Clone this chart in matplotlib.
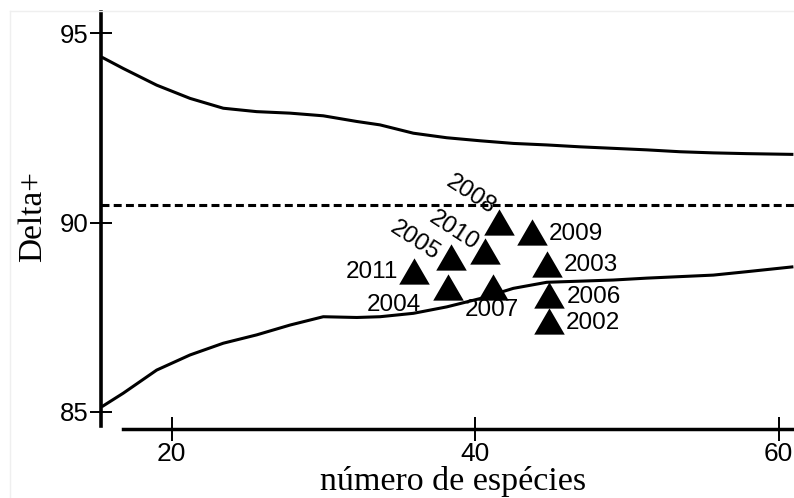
"""
Funnel plot of average taxonomic distinctness (Delta+) against number of species,
with the yearly samples placed inside the 95% probability funnel.
"""
import matplotlib
matplotlib.use("Agg")
import matplotlib.pyplot as plt
from matplotlib.lines import Line2D

# ── data ─────────────────────────────────────────────────────────────────────
n_species = [15.39, 16.81, 19.01, 21.21, 23.40, 25.60, 27.80, 29.99, 32.20, 33.73,
             35.93, 38.13, 40.33, 42.52, 44.72, 46.92, 49.11, 51.31, 53.51, 55.70,
             57.90, 60.98]
upper_limit = [94.37, 94.07, 93.63, 93.28, 93.02, 92.93, 92.89, 92.82, 92.67, 92.58,
               92.36, 92.24, 92.16, 92.09, 92.05, 92.00, 91.96, 91.92, 91.87, 91.84,
               91.82, 91.80]
lower_limit = [85.13, 85.49, 86.10, 86.50, 86.81, 87.03, 87.29, 87.51, 87.49, 87.51,
               87.60, 87.77, 87.99, 88.26, 88.42, 88.45, 88.48, 88.53, 88.57, 88.61,
               88.70, 88.83]
expected_delta = 90.46

years = ["2002", "2003", "2004", "2005", "2006", "2007", "2008", "2009", "2010", "2011"]
year_species = [44.85, 44.74, 38.19, 38.43, 44.85, 41.20, 41.56, 43.76, 40.68, 36.00]
year_delta = [87.40, 88.91, 88.30, 89.10, 88.08, 88.30, 90.02, 89.76, 89.25, 88.71]

x_ticks = [20, 40, 60]
y_ticks = [85, 90, 95]

# label placement per year: (dx, dy) in points, ha, rotation
LABEL_POS = {
    "2002": ((12.2, -1.5), "left", 0),
    "2003": ((11.7, -1.0), "left", 0),
    "2004": ((-38.7, -13.2), "center", 0),
    "2005": ((-26.1, 11.5), "center", -33),
    "2006": ((13.0, -1.3), "left", 0),
    "2007": ((-1.2, -16.9), "center", 0),
    "2008": ((-20.3, 19.2), "center", -33),
    "2009": ((11.6, -1.5), "left", 0),
    "2010": ((-23.0, 14.4), "center", -33),
    "2011": ((-11.5, -0.4), "right", 0),
}

SANS = "Liberation Sans"
SERIF = "Liberation Serif"
W, H = 794, 498

# ── figure ───────────────────────────────────────────────────────────────────
fig = plt.figure(figsize=(W / 100, H / 100), dpi=100)
fig.patch.set_facecolor("white")

# axes box in pixel terms: left 101, right 794, top 11.7, bottom 429.3
ax = fig.add_axes([101 / W, (H - 429.3) / H, (W - 101) / W, (429.3 - 11.7) / H])
ax.set_xlim(15.34, 61.02)
ax.set_ylim(84.535, 95.571)

for side in ("top", "right"):
    ax.spines[side].set_visible(False)
ax.spines["left"].set_linewidth(2.6)
ax.spines["bottom"].set_linewidth(2.5)
ax.spines["left"].set_bounds(84.62, 95.571)
ax.spines["bottom"].set_bounds(16.79, 61.02)

ax.set_xticks(x_ticks)
ax.set_yticks(y_ticks)
ax.tick_params(axis="both", direction="inout", width=1.4, color="black")
ax.tick_params(axis="y", length=15.6, pad=1.2, labelsize=18.5)
ax.tick_params(axis="x", length=16.6, pad=0.6, labelsize=19)
for lab in ax.get_xticklabels() + ax.get_yticklabels():
    lab.set_family(SANS)

# funnel limits and mean
ax.plot(n_species, upper_limit, color="black", lw=2.2, solid_capstyle="butt",
        solid_joinstyle="round", clip_on=False)
ax.plot(n_species, lower_limit, color="black", lw=2.2, solid_capstyle="butt",
        solid_joinstyle="round", clip_on=False)
ax.axhline(expected_delta, color="black", lw=2.2, dashes=(2.6, 1.4))

# yearly samples
tri = [(-1, -0.86), (1, -0.86), (0, 0.86)]
ax.plot(year_species, year_delta, linestyle="none", marker=tri, ms=22,
        mfc="black", mew=0, zorder=3)

for yr, xs, yd in zip(years, year_species, year_delta):
    (dx, dy), ha, rot = LABEL_POS[yr]
    ax.annotate(yr, (xs, yd), xytext=(dx, dy), textcoords="offset points",
                ha=ha, va="center", rotation=rot, rotation_mode="anchor",
                fontsize=17.5, family=SANS, color="black", zorder=4)

# axis titles
fig.text(452.7 / W, 1 - 481.5 / H, "número de espécies", ha="center", va="center",
         fontsize=24.5, family=SERIF)
fig.text(33 / W, 1 - 216.7 / H, "Delta+", ha="center", va="center",
         rotation=90, fontsize=24, family=SERIF)

# faint page frame along the top and left
frame_kw = dict(color="#efefef", lw=1.0, transform=fig.transFigure)
fig.add_artist(Line2D([9.5 / W, 1], [1 - 11.5 / H] * 2, **frame_kw))
fig.add_artist(Line2D([9.5 / W] * 2, [0, 1 - 11.5 / H], **frame_kw))

fig.savefig("out.png", dpi=100, facecolor="white")
